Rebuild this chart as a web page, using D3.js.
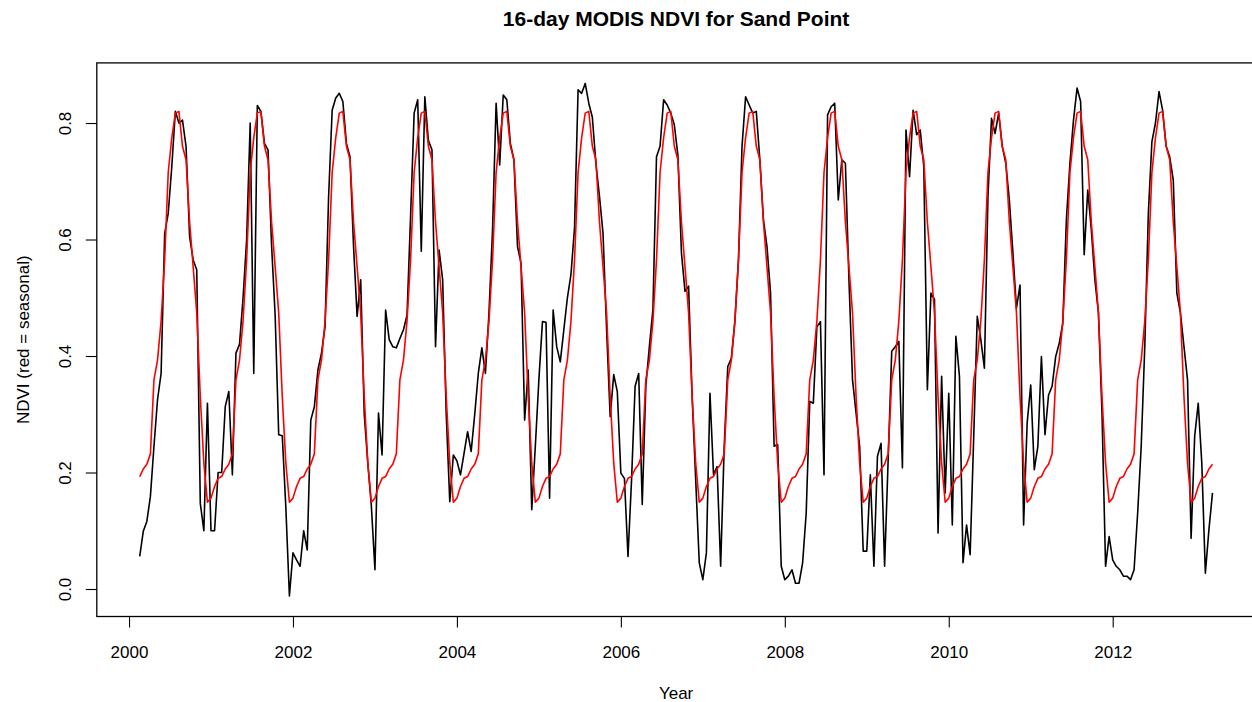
<!DOCTYPE html>
<html><head><meta charset="utf-8">
<script src="https://cdn.jsdelivr.net/npm/d3@7"></script>
<style>
body{margin:0;background:#fff}
svg{display:block}
text{font-family:"Liberation Sans",Arial,Helvetica,sans-serif;fill:#000}
</style>
</head><body>
<svg id="chart" width="1252" height="702"></svg>
<script>
const title = "16-day MODIS NDVI for Sand Point";
const xLabel = "Year";
const yLabel = "NDVI (red = seasonal)";
const startYear = 2000;
const startPeriod = 4;      // 4th 16-day composite of 2000 (DOY 49)
const frequency = 23;       // composites per year

// observed NDVI (black), 16-day composites from early 2000 to early 2013
const ndvi = [
  0.056,0.099,0.116,0.159,0.245,0.325,0.370,0.610,0.645,0.725,0.820,0.800,0.805,0.760,0.605,0.565,0.548,0.147,0.100,0.319,
  0.100,0.100,0.200,0.200,0.313,0.339,0.196,0.405,0.420,0.500,0.600,0.800,0.370,0.830,0.820,0.765,0.754,0.590,0.470,0.265,
  0.263,0.140,-0.012,0.062,0.050,0.039,0.100,0.067,0.290,0.313,0.376,0.405,0.450,0.674,0.822,0.843,0.851,0.837,0.765,0.742,
  0.588,0.468,0.531,0.300,0.216,0.142,0.033,0.302,0.230,0.479,0.428,0.416,0.414,0.430,0.445,0.470,0.640,0.817,0.840,0.580,
  0.845,0.770,0.754,0.416,0.582,0.531,0.300,0.150,0.230,0.220,0.196,0.233,0.270,0.236,0.300,0.370,0.414,0.370,0.474,0.617,
  0.834,0.728,0.848,0.840,0.765,0.737,0.588,0.559,0.290,0.376,0.136,0.245,0.359,0.459,0.458,0.156,0.479,0.416,0.390,0.445,
  0.500,0.540,0.620,0.857,0.851,0.868,0.834,0.810,0.730,0.674,0.610,0.445,0.296,0.368,0.339,0.199,0.190,0.056,0.187,0.348,
  0.370,0.145,0.348,0.416,0.480,0.742,0.760,0.840,0.831,0.817,0.797,0.745,0.577,0.511,0.520,0.330,0.187,0.045,0.016,0.062,
  0.336,0.196,0.210,0.039,0.245,0.382,0.396,0.460,0.565,0.760,0.845,0.831,0.817,0.820,0.737,0.634,0.588,0.508,0.245,0.248,
  0.039,0.016,0.022,0.033,0.010,0.010,0.045,0.130,0.322,0.319,0.450,0.459,0.196,0.814,0.828,0.834,0.668,0.737,0.731,0.531,
  0.359,0.302,0.245,0.065,0.065,0.196,0.039,0.228,0.250,0.039,0.222,0.408,0.416,0.425,0.208,0.788,0.708,0.822,0.780,0.788,
  0.725,0.342,0.508,0.497,0.096,0.365,0.165,0.336,0.110,0.434,0.365,0.045,0.110,0.059,0.260,0.468,0.428,0.379,0.674,0.808,
  0.782,0.817,0.760,0.731,0.668,0.577,0.482,0.522,0.110,0.285,0.350,0.205,0.245,0.399,0.265,0.333,0.348,0.399,0.422,0.456,
  0.634,0.731,0.805,0.860,0.837,0.574,0.685,0.617,0.531,0.474,0.302,0.039,0.090,0.050,0.039,0.033,0.022,0.022,0.016,0.033,
  0.130,0.245,0.416,0.645,0.768,0.800,0.854,0.822,0.760,0.742,0.702,0.508,0.474,0.416,0.359,0.087,0.262,0.319,0.216,0.027,
  0.102,0.165
];

// seasonal component (red), one value per 16-day composite of the year (period 1..23)
const seasonalCycle = [
  0.156,0.176,0.190,0.193,0.206,0.214,0.232,0.359,0.393,0.460,0.565,0.715,
  0.775,0.817,0.820,0.760,0.737,0.630,0.553,0.474,0.330,0.216,0.149
];

const xTickLabels = [2000,2002,2004,2006,2008,2010,2012];
const yTickLabels = [0.0,0.2,0.4,0.6,0.8];

// ---- derived series ----
const time = ndvi.map((_, i) => startYear + (startPeriod - 1 + i) / frequency);
const seasonal = ndvi.map((_, i) => seasonalCycle[(startPeriod - 1 + i) % frequency]);

// ---- layout ----
const plot = {left: 96.8, right: 1255.4, top: 62.9, bottom: 616.5};
const padded = ext => { const r = ext[1] - ext[0]; return [ext[0] - 0.04 * r, ext[1] + 0.04 * r]; };

const x = d3.scaleLinear().domain(padded(d3.extent(time))).range([plot.left, plot.right]);
const y = d3.scaleLinear().domain(padded(d3.extent(ndvi.concat(seasonal)))).range([plot.bottom, plot.top]);

const svg = d3.select("#chart");

// title
svg.append("text")
  .attr("x", (plot.left + plot.right) / 2).attr("y", 26)
  .attr("text-anchor", "middle")
  .style("font-size", "21px").style("font-weight", "bold")
  .text(title);

// lines
const clipId = "plotclip";
svg.append("clipPath").attr("id", clipId).append("rect")
  .attr("x", plot.left).attr("y", plot.top)
  .attr("width", plot.right - plot.left).attr("height", plot.bottom - plot.top);

const line = d3.line().x(d => x(d[0])).y(d => y(d[1]));
const g = svg.append("g").attr("clip-path", `url(#${clipId})`);
g.append("path")
  .datum(time.map((t, i) => [t, ndvi[i]]))
  .attr("d", line).attr("fill", "none")
  .attr("stroke", "#000").attr("stroke-width", 1.6).attr("stroke-linejoin", "round");
g.append("path")
  .datum(time.map((t, i) => [t, seasonal[i]]))
  .attr("d", line).attr("fill", "none")
  .attr("stroke", "#ff0000").attr("stroke-width", 1.6).attr("stroke-linejoin", "round");

// frame
svg.append("rect")
  .attr("x", plot.left).attr("y", plot.top)
  .attr("width", plot.right - plot.left).attr("height", plot.bottom - plot.top)
  .attr("fill", "none").attr("stroke", "#000").attr("stroke-width", 1.3);

// x axis
const xAxis = d3.axisBottom(x).tickValues(xTickLabels).tickSize(11).tickPadding(0)
  .tickFormat(d3.format("d"));
const gx = svg.append("g").attr("transform", `translate(0,${plot.bottom})`).call(xAxis);
gx.select(".domain").remove();
gx.selectAll(".tick line").attr("stroke", "#000").attr("stroke-width", 1.1);
gx.selectAll(".tick text").attr("y", 0).attr("dy", null)
  .attr("transform", "translate(0,41)")
  .style("font-size", "17px").attr("fill", "#000");

// y axis
const yAxis = d3.axisLeft(y).tickValues(yTickLabels).tickSize(11).tickFormat(d3.format(".1f"));
const gy = svg.append("g").attr("transform", `translate(${plot.left},0)`).call(yAxis);
gy.select(".domain").remove();
gy.selectAll(".tick line").attr("stroke", "#000").attr("stroke-width", 1.1);
gy.selectAll(".tick text")
  .attr("x", null).attr("dy", null).attr("y", 0)
  .attr("text-anchor", "middle")
  .attr("transform", `translate(${71 - plot.left},0) rotate(-90)`)
  .style("font-size", "17px").attr("fill", "#000");

// axis titles
svg.append("text")
  .attr("x", (plot.left + plot.right) / 2).attr("y", 699)
  .attr("text-anchor", "middle").style("font-size", "17px")
  .text(xLabel);
svg.append("text")
  .attr("transform", `translate(29,${(plot.top + plot.bottom) / 2}) rotate(-90)`)
  .attr("text-anchor", "middle").style("font-size", "17px")
  .text(yLabel);
</script>
</body></html>
